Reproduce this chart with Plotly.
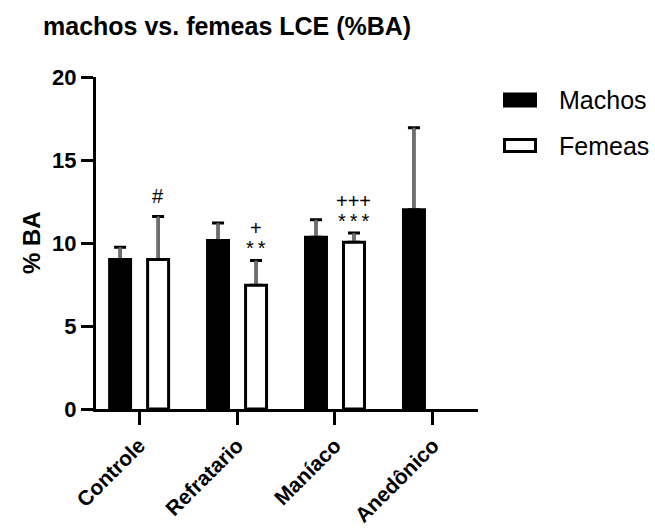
import plotly.graph_objects as go

# Groups and series values (% BA)
categories = ["Controle", "Refratario", "Maníaco", "Anedônico"]
machos_mean = [9.0, 10.15, 10.35, 12.0]
machos_err = [0.75, 1.05, 1.05, 4.95]
femeas_mean = [9.0, 7.45, 10.05, None]
femeas_err = [2.6, 1.5, 0.55, None]

# Significance marks over the Femeas bars: (category index, lower mark, upper mark)
marks = [(0, None, "#"), (1, "**", "+"), (2, "***", "+++")]

y_ticks = [0, 5, 10, 15, 20]

FONT = "Liberation Sans, Arial, sans-serif"
CLEAR = "rgba(0,0,0,0)"
THIN = "\u2009"

fig = go.Figure()


def err(arr, color, width):
    return dict(type="data", array=arr, arrayminus=[0] * len(arr), symmetric=False,
                color=color, thickness=3, width=width)


# Error bars are carried by transparent bars drawn first, so the real bars
# painted afterwards hide the lower end; black caps under grey stems.
for mean, e, grp in [(machos_mean, machos_err, "m"), (femeas_mean, femeas_err, "f")]:
    fig.add_trace(go.Bar(x=categories, y=mean, offsetgroup=grp, showlegend=False,
                         marker=dict(color=CLEAR, line=dict(color=CLEAR, width=3)),
                         error_y=err(e, "black", 6), hoverinfo="skip"))
for mean, e, grp in [(machos_mean, machos_err, "m"), (femeas_mean, femeas_err, "f")]:
    fig.add_trace(go.Bar(x=categories, y=mean, offsetgroup=grp, showlegend=False,
                         marker=dict(color=CLEAR, line=dict(color=CLEAR, width=3)),
                         error_y=err(e, "#6e6e6e", 0), hoverinfo="skip"))

fig.add_trace(go.Bar(
    name="Machos", x=categories, y=machos_mean, offsetgroup="m",
    marker=dict(color="black", line=dict(color="black", width=3)),
))
fig.add_trace(go.Bar(
    name="Femeas", x=categories, y=femeas_mean, offsetgroup="f",
    marker=dict(color="white", line=dict(color="black", width=3)),
))

# Plot area geometry in pixels (used to place the hand-built legend)
W, H = 655, 528
L, R, T, B = 96, 177, 77, 119
pw, ph = W - L - R, H - T - B


def px_x(p):
    return (p - L) / pw


def px_y(p):
    return (H - B - p) / ph


def spaced(s):
    return THIN.join(s) if s.startswith("*") else s


annotations = []
for idx, low, high in marks:
    top = femeas_mean[idx] + femeas_err[idx]
    if low:
        annotations.append(dict(x=categories[idx], y=top, xref="x", yref="y",
                                text=spaced(low), showarrow=False, xshift=19, yshift=12,
                                yanchor="middle", font=dict(family=FONT, size=20, color="black")))
    if high:
        annotations.append(dict(x=categories[idx], y=top, xref="x", yref="y",
                                text=spaced(high), showarrow=False, xshift=19,
                                yshift=32 if low else 20,
                                yanchor="middle", font=dict(family=FONT, size=20, color="black")))

# Legend entries
legend_items = [("Machos", "black", 100), ("Femeas", "white", 145.5)]
shapes = []
for name, fill, cy in legend_items:
    shapes.append(dict(type="rect", xref="paper", yref="paper",
                       x0=px_x(504.5), x1=px_x(535.5), y0=px_y(cy - 6), y1=px_y(cy + 6),
                       fillcolor=fill, line=dict(color="black", width=3)))
    annotations.append(dict(x=px_x(557), y=px_y(cy), xref="paper", yref="paper",
                            text=name, showarrow=False, xanchor="left", yanchor="middle",
                            font=dict(family=FONT, size=25, color="black")))

# Y axis title
annotations.append(dict(x=px_x(31), y=px_y(243), xref="paper", yref="paper",
                        text="<b>% BA</b>", showarrow=False, textangle=-90,
                        xanchor="center", yanchor="middle",
                        font=dict(family=FONT, size=24, color="black")))

fig.update_layout(
    width=W, height=H,
    margin=dict(l=L, r=R, t=T, b=B, pad=0),
    paper_bgcolor="white", plot_bgcolor="white",
    barmode="group", bargap=0.224, bargroupgap=0.448,
    showlegend=False,
    title=dict(text="<b>machos vs. femeas LCE (%BA)</b>", x=43 / W, xanchor="left",
               y=1 - 26 / H, yanchor="middle", yref="container",
               font=dict(family=FONT, size=25, color="black")),
    xaxis=dict(range=[-0.44, 3.46], showline=True, linecolor="black", linewidth=3,
               ticks="outside", ticklen=13, tickwidth=3, tickcolor="black",
               tickangle=-45, showgrid=False, zeroline=False, automargin=False,
               tickvals=categories, ticktext=[f"<b>{c}</b>" for c in categories],
               tickfont=dict(family=FONT, size=21, color="black")),
    yaxis=dict(range=[0, 20], tickvals=y_ticks, ticktext=[f"<b>{v}</b>" for v in y_ticks],
               showline=True, linecolor="black", linewidth=3,
               ticks="outside", ticklen=12, tickwidth=3, tickcolor="black",
               showgrid=False, zeroline=False, automargin=False,
               tickfont=dict(family=FONT, size=22, color="black")),
    shapes=shapes,
    annotations=annotations,
)

fig.write_html("out.html")
